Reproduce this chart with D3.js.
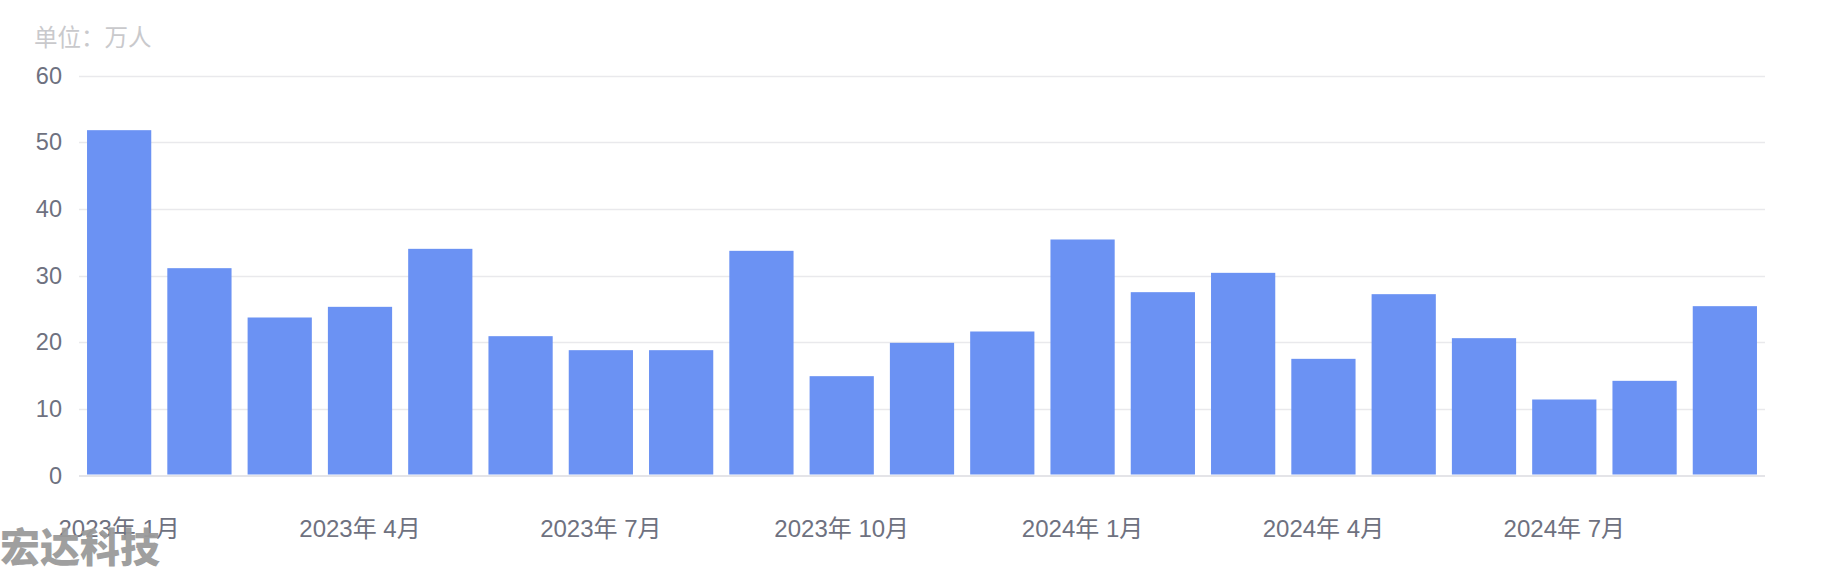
<!DOCTYPE html>
<html>
<head>
<meta charset="utf-8">
<script src="https://cdn.jsdelivr.net/npm/d3@7"></script>
<style>
  html, body { margin: 0; padding: 0; background: #fff; }
  svg { display: block; }
</style>
</head>
<body>
<svg id="chart" width="1827" height="567"></svg>
<script>
const months = ["2023-01","2023-02","2023-03","2023-04","2023-05","2023-06","2023-07","2023-08","2023-09","2023-10","2023-11","2023-12",
                "2024-01","2024-02","2024-03","2024-04","2024-05","2024-06","2024-07","2024-08","2024-09"];
const values = [51.8, 31.1, 23.7, 25.3, 34.0, 20.9, 18.8, 18.8, 33.7, 14.9, 19.9, 21.6,
                35.4, 27.5, 30.4, 17.5, 27.2, 20.6, 11.4, 14.2, 25.4];
const yTicks = [0, 10, 20, 30, 40, 50, 60];
const xLabelMonths = ["2023-01","2023-04","2023-07","2023-10","2024-01","2024-04","2024-07"];
const unitLabel = "单位：万人";
const watermark = "宏达科技";

(function () {
const svg = d3.select("#chart");
const mLeft = 79, mRight = 1765, mTop = 75.5, mBottom = 475.5;
const font = "'Helvetica Neue', Helvetica, Arial, 'Liberation Sans', 'Noto Sans CJK SC', sans-serif";

const x = d3.scaleBand().domain(months).range([mLeft, mRight]).paddingInner(0.2).paddingOuter(0.1);
const y = d3.scaleLinear().domain([0, 60]).range([mBottom, mTop]);

// gridlines
svg.append("g").selectAll("line").data(yTicks.filter(d => d !== 0)).join("line")
  .attr("x1", mLeft).attr("x2", mRight)
  .attr("y1", d => Math.round(y(d)) + 0.5).attr("y2", d => Math.round(y(d)) + 0.5)
  .attr("stroke", "#e9e9ec").attr("stroke-width", 1.5);

// y labels
const yAxis = d3.axisLeft(y).tickValues(yTicks).tickSize(0).tickPadding(0);
const yg = svg.append("g").attr("transform", `translate(62,0)`).call(yAxis);
yg.select(".domain").remove();
yg.selectAll("text").attr("font-family", font).attr("font-size", 23.5).attr("fill", "#6e7180");

// bars
svg.append("g").selectAll("rect").data(values).join("rect")
  .attr("x", (d, i) => x(months[i]))
  .attr("width", x.bandwidth())
  .attr("y", d => y(d))
  .attr("height", d => y(0) - y(d) - 1)
  .attr("fill", "#6b92f3");

// axis line
svg.append("line").attr("x1", mLeft).attr("x2", mRight)
  .attr("y1", mBottom + 0.5).attr("y2", mBottom + 0.5)
  .attr("stroke", "#e4e4e8").attr("stroke-width", 2);

// x labels
const fmt = m => { const [yy, mm] = m.split("-"); return `${yy}年 ${+mm}月`; };
const xAxis = d3.axisBottom(x).tickValues(xLabelMonths).tickFormat(fmt).tickSize(0).tickPadding(0);
const xg = svg.append("g").attr("transform", `translate(0,${mBottom})`).call(xAxis);
xg.select(".domain").remove();
xg.selectAll("text").attr("font-family", font).attr("font-size", 24).attr("fill", "#6e7180")
  .attr("dy", null).attr("y", 61);

// unit label
svg.append("text").attr("x", 34).attr("y", 46).text(unitLabel)
  .attr("font-family", font).attr("font-size", 23.5).attr("fill", "#c9c9cc");

// watermark
svg.append("text").attr("x", 0).attr("y", 562).text(watermark)
  .attr("font-family", "'Noto Sans CJK SC', sans-serif").attr("font-weight", 900)
  .attr("font-size", 40).attr("fill", "#9a9a9a").attr("opacity", 0.95);
})();
</script>
</body>
</html>
